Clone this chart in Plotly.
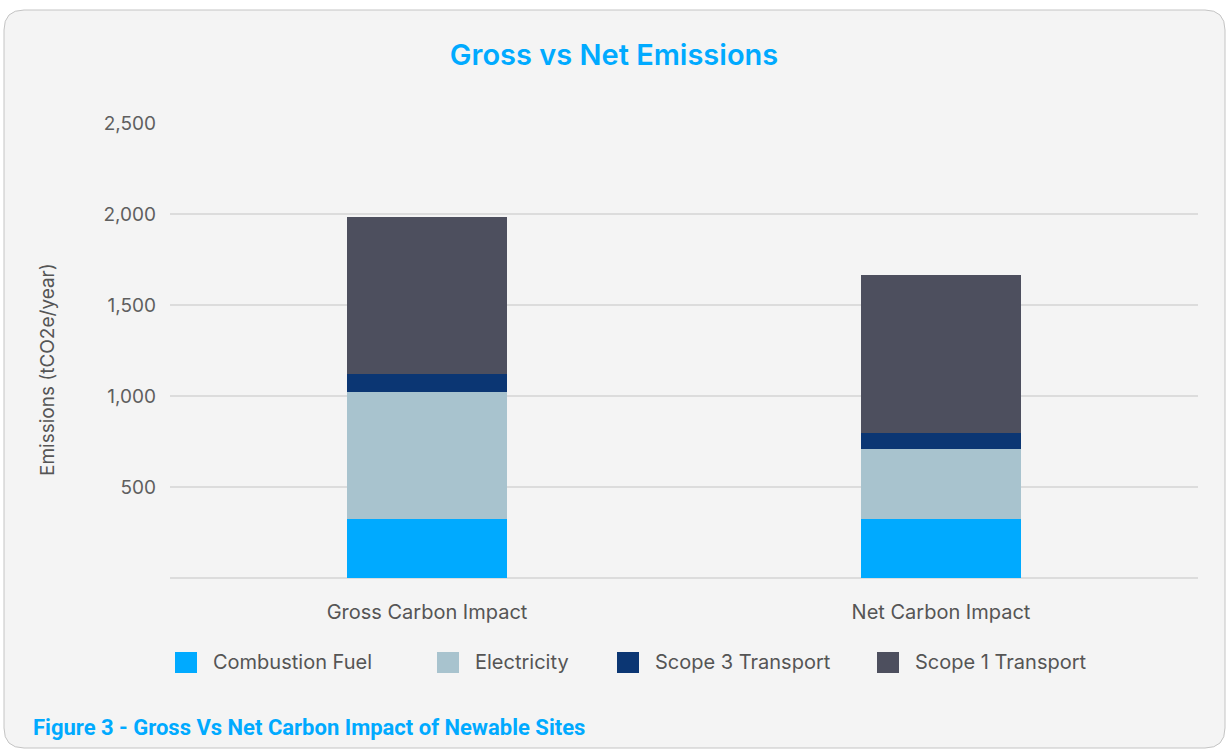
import plotly.graph_objects as go

categories = ["Gross Carbon Impact", "Net Carbon Impact"]
series_names = ["Combustion Fuel", "Electricity", "Scope 3 Transport", "Scope 1 Transport"]
combustion_fuel = [324, 324]
electricity = [700, 385]
scope3_transport = [97, 89]
scope1_transport = [861, 868]
series_values = [combustion_fuel, electricity, scope3_transport, scope1_transport]
colors = ["#00aaff", "#a8c3ce", "#0b3673", "#4d4f5e"]
y_tickvals = [500, 1000, 1500, 2000, 2500]
y_ticktext = ["500", "1,000", "1,500", "2,000", "2,500"]
y_title = "Emissions (tCO2e/year)"

W, H = 1228, 749
L, R, T, B = 170, 30, 123, 171
pw, ph = W - L - R, H - T - B


def px_x(p):
    return (p - L) / pw


def px_y(p):
    return (H - B - p) / ph


fig = go.Figure()
for name, vals, col in zip(series_names, series_values, colors):
    fig.add_trace(go.Bar(x=categories, y=vals, name=name, marker=dict(color=col, line=dict(width=0)),
                         showlegend=False))

# card background with rounded corners
x0, x1 = px_x(4), px_x(1225)
yT, yB = px_y(10), px_y(748)
rx, ry = 20 / pw, 20 / ph
path = (f"M{x0+rx},{yT} L{x1-rx},{yT} Q{x1},{yT} {x1},{yT-ry} L{x1},{yB+ry} Q{x1},{yB} {x1-rx},{yB} "
        f"L{x0+rx},{yB} Q{x0},{yB} {x0},{yB+ry} L{x0},{yT-ry} Q{x0},{yT} {x0+rx},{yT} Z")
shapes = [dict(type="path", path=path, xref="paper", yref="paper", fillcolor="#f4f4f4",
               line=dict(color="#c4c4c4", width=1), layer="below")]

annotations = []
# manual legend
sq_x = [175, 437, 617, 877]
txt_x = [211, 473, 653, 913]
ly = 662
for name, col, sx, tx in zip(series_names, colors, sq_x, txt_x):
    shapes.append(dict(type="rect", xref="paper", yref="paper", x0=px_x(sx), x1=px_x(sx + 22),
                       y0=px_y(ly + 11), y1=px_y(ly - 10), fillcolor=col, line=dict(width=0)))
    annotations.append(dict(text=name, xref="paper", yref="paper", x=px_x(tx), y=px_y(ly),
                            xanchor="left", yanchor="middle", showarrow=False,
                            font=dict(family="Inter", size=20, color="#555555")))

annotations.append(dict(text="<b>Figure 3 - Gross Vs Net Carbon Impact of Newable Sites</b>",
                        xref="paper", yref="paper", x=px_x(31), y=px_y(727), xanchor="left",
                        yanchor="middle", showarrow=False,
                        font=dict(family="Roboto", size=22, color="#00aaff")))

annotations.append(dict(text=y_title, xref="paper", yref="paper", x=px_x(47), y=px_y(370),
                        xanchor="center", yanchor="middle", textangle=-90, showarrow=False,
                        font=dict(family="Inter", size=19, color="#555555")))

fig.update_layout(
    width=W, height=H,
    margin=dict(l=L, r=R, t=T, b=B),
    paper_bgcolor="#ffffff",
    plot_bgcolor="rgba(0,0,0,0)",
    barmode="stack",
    bargap=0.687,
    title=dict(text="Gross vs Net Emissions", x=0.5, xanchor="center", y=1 - 55 / H,
               yanchor="middle", font=dict(family="Inter", size=29, weight=600, color="#00aaff")),
    shapes=shapes,
    annotations=annotations,
    showlegend=False,
)
fig.update_xaxes(showgrid=False, showline=False, ticks="", ticklabelstandoff=20,
                 tickfont=dict(family="Inter", size=20, color="#555555"))
fig.update_yaxes(range=[0, 2500], tickvals=y_tickvals, ticktext=y_ticktext,
                 showgrid=True, gridcolor="#dcdcdc", gridwidth=1.5,
                 zeroline=True, zerolinecolor="#dcdcdc", zerolinewidth=1.5,
                 showline=False, ticks="", ticklabelstandoff=13,
                 tickfont=dict(family="Inter", size=19, color="#5f5f5f"))

fig.write_html("out.html", config={"displayModeBar": False},
               post_script="document.body.style.margin='0px';")
